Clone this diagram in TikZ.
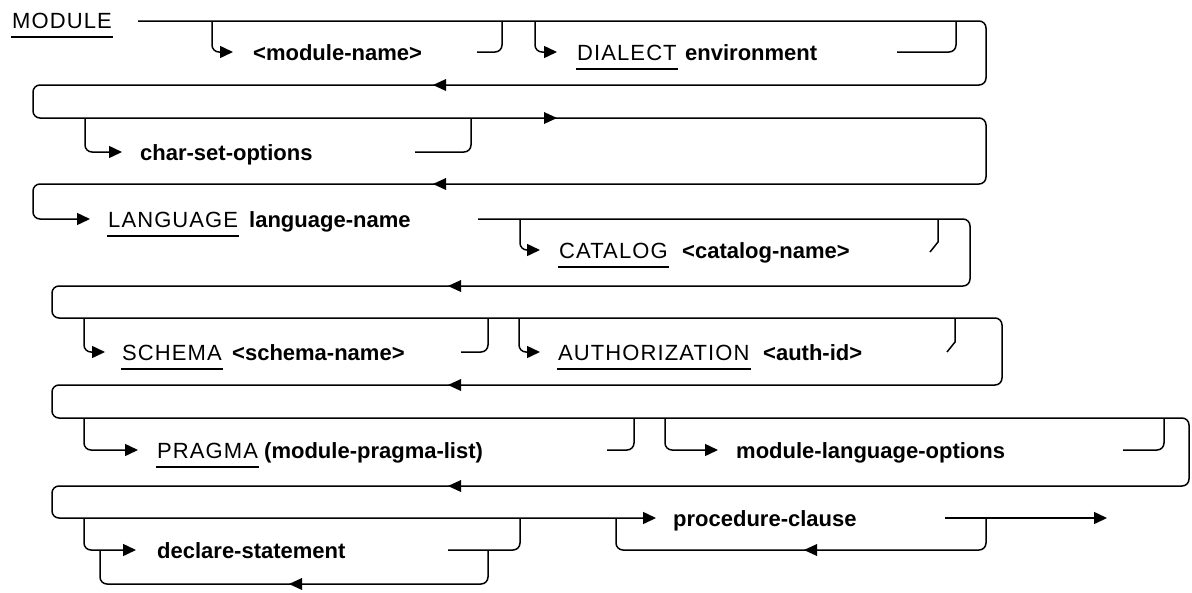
\documentclass[tikz,border=0pt]{standalone}
\usepackage{fontspec}
\setmainfont{Liberation Sans}
\newfontfamily\kwfont[LetterSpace=5]{Liberation Sans}
\usetikzlibrary{arrows.meta}
\newcommand\lefttip[1]{\fill #1 -- ++(13,-6) -- ++(0,12) -- cycle;}
\newcommand\righttip[1]{\fill #1 -- ++(-13,-6) -- ++(0,12) -- cycle;}
\begin{document}
\begin{tikzpicture}[x=1pt,y=-1pt,
  rail/.style={line width=1.5pt, rounded corners=7pt},
  tip/.style={-{Triangle[length=13pt,width=12pt]}},
  lab/.style={font=\bfseries\fontsize{22}{24}\selectfont, inner sep=0pt, anchor=base west},
  kw/.style={font=\kwfont\fontsize{22}{24}\selectfont, inner sep=0pt, anchor=base west},
  uline/.style={line width=1.3pt}]
\useasboundingbox (0,0) rectangle (1192,592);

% keyword underline helper
\def\ul#1{\draw[uline] ([xshift=-1pt,yshift=-9pt]#1.base west) -- ([xshift=1pt,yshift=-9pt]#1.base east);}

% ---------- texts ----------
\node[kw] (module) at (12,28) {MODULE}; \ul{module}
\node[lab] (modname) at (253,60) {<module-name>};
\node[kw] (dialect) at (577,60) {DIALECT}; \ul{dialect}
\node[lab] (env) at (685,60) {environment};
\node[lab] (charset) at (140,160) {char-set-options};
\node[kw] (language) at (108,227) {LANGUAGE}; \ul{language}
\node[lab] (langname) at (249,227) {language-name};
\node[kw] (catalog) at (559,258) {CATALOG}; \ul{catalog}
\node[lab] (catname) at (682,258) {<catalog-name>};
\node[kw] (schema) at (122,360) {SCHEMA}; \ul{schema}
\node[lab] (schname) at (232,360) {<schema-name>};
\node[kw] (auth) at (558,360) {AUTHORIZATION}; \ul{auth}
\node[lab] (authid) at (763,360) {<auth-id>};
\node[kw] (pragma) at (157,458) {PRAGMA}; \ul{pragma}
\node[lab] (pragmalist) at (264,458) {(module-pragma-list)};
\node[lab] (mlo) at (736,458) {module-language-options};
\node[lab] (decl) at (157,558) {declare-statement};
\node[lab] (proc) at (673,526) {procedure-clause};

% ---------- main serpentine ----------
\draw[rail,tip] (138,21) -- (986,21) -- (986,85) -- (33,85) -- (33,118)
  -- (986,118) -- (986,184) -- (33,184) -- (33,219) -- (90,219);
\draw[rail,tip] (478,219) -- (970,219) -- (970,286) -- (52,286) -- (52,318)
  -- (1002,318) -- (1002,385) -- (52,385) -- (52,418) -- (1189,418)
  -- (1189,486) -- (52,486) -- (52,518) -- (656,518);
\draw[rail,tip] (945,518) -- (1107,518);

% mid-line arrows
\lefttip{(433,85)}
\righttip{(557,118)}
\lefttip{(433,184)}
\lefttip{(448,286)}
\lefttip{(448,385)}
\lefttip{(448,486)}

% ---------- branches ----------
% module-name
\draw[rail,tip] (212,21) -- (212,52) -- (233,52);
\draw[rail] (477,52) -- (502,52) -- (502,21);
% DIALECT
\draw[rail,tip] (535,21) -- (535,52) -- (557,52);
\draw[rail] (897,52) -- (956,52) -- (956,21);
% char-set-options
\draw[rail,tip] (85,118) -- (85,152) -- (122,152);
\draw[rail] (415,152) -- (471,152) -- (471,118);
% CATALOG
\draw[rail,tip] (520,219) -- (520,250) -- (540,250);
\draw[line width=1.5pt] (930,252) -- (938,242) -- (938,219);
% SCHEMA
\draw[rail,tip] (84,318) -- (84,352) -- (105,352);
\draw[rail] (461,352) -- (488,352) -- (488,318);
% AUTHORIZATION
\draw[rail,tip] (519,318) -- (519,352) -- (540,352);
\draw[line width=1.5pt] (947,352) -- (955,342) -- (955,318);
% PRAGMA
\draw[rail,tip] (84,418) -- (84,450) -- (138,450);
\draw[rail] (607,450) -- (634,450) -- (634,418);
% module-language-options
\draw[rail,tip] (665,418) -- (665,450) -- (718,450);
\draw[rail] (1123,450) -- (1164,450) -- (1164,418);
% declare-statement with repeat loop
\draw[rail,tip] (84,518) -- (84,550) -- (136,550);
\draw[rail] (448,550) -- (520,550) -- (520,518);
\draw[rail] (488,550) -- (488,584) -- (100,584) -- (100,550);
\lefttip{(289,584)}
% procedure-clause repeat loop
\draw[rail] (986,518) -- (986,550) -- (616,550) -- (616,518);
\lefttip{(804,550)}
\end{tikzpicture}
\end{document}
